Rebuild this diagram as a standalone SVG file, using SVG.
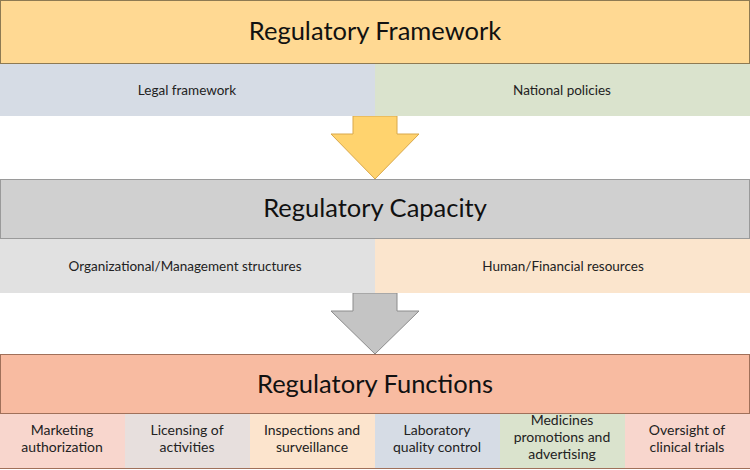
<svg xmlns="http://www.w3.org/2000/svg" width="750" height="470" viewBox="0 0 750 470">
<style>
.title{font-family:Lato,"Open Sans","Liberation Sans",sans-serif;font-size:25.5px;fill:#111;text-anchor:middle}
.sub{font-family:Lato,"Open Sans","Liberation Sans",sans-serif;font-size:13.5px;fill:#222;text-anchor:middle}
.fn{font-family:Lato,"Open Sans","Liberation Sans",sans-serif;font-size:14px;fill:#222;text-anchor:middle}
</style>
<rect width="750" height="470" fill="#ffffff"/>
<g id="connectors">
<polygon points="353,116 397,116 397,134 419,134 375,179 331,134 353,134" fill="#FFD36E" stroke="#D9A84A" stroke-width="1"/>
<polygon points="353,293 397,293 397,311 419,311 375,354 331,311 353,311" fill="#C4C4C4" stroke="#8C8C8C" stroke-width="1"/>
</g>
<g id="regulatory-framework">
<rect x="0.5" y="0.5" width="749" height="63" fill="#FFD993" stroke="#8E7A52" stroke-width="1"/>
<text class="title" x="375" y="40">Regulatory Framework</text>
</g>
<g id="legal-framework">
<rect x="0" y="64" width="375" height="52" fill="#D6DCE5"/>
<text class="sub" x="187" y="95">Legal framework</text>
</g>
<g id="national-policies">
<rect x="375" y="64" width="375" height="52" fill="#DAE3CD"/>
<text class="sub" x="562" y="95">National policies</text>
</g>
<g id="regulatory-capacity">
<rect x="0.5" y="179.5" width="749" height="59" fill="#D0D0D0" stroke="#9A9A9A" stroke-width="1"/>
<text class="title" x="375" y="217">Regulatory Capacity</text>
</g>
<g id="organizational">
<rect x="0" y="239" width="375" height="54" fill="#E1E1E1"/>
<text class="sub" x="185" y="271">Organizational/Management structures</text>
</g>
<g id="human-financial">
<rect x="375" y="239" width="375" height="54" fill="#FBE5CD"/>
<text class="sub" x="563" y="271">Human/Financial resources</text>
</g>
<g id="regulatory-functions">
<rect x="0.5" y="354.5" width="749" height="59" fill="#F8BBA1" stroke="#A0705A" stroke-width="1"/>
<text class="title" x="375" y="393">Regulatory Functions</text>
</g>
<g id="marketing">
<rect x="0" y="414" width="125" height="54" fill="#F8D6CD"/>
<text class="fn" x="62" y="435">Marketing</text>
<text class="fn" x="62" y="452">authorization</text>
</g>
<g id="licensing">
<rect x="125" y="414" width="125" height="54" fill="#E7DFDD"/>
<text class="fn" x="187" y="435">Licensing of</text>
<text class="fn" x="187" y="452">activities</text>
</g>
<g id="inspections">
<rect x="250" y="414" width="125" height="54" fill="#FCE4CD"/>
<text class="fn" x="312" y="435">Inspections and</text>
<text class="fn" x="312" y="452">surveillance</text>
</g>
<g id="laboratory">
<rect x="375" y="414" width="125" height="54" fill="#D6DCE5"/>
<text class="fn" x="437" y="435">Laboratory</text>
<text class="fn" x="437" y="452">quality control</text>
</g>
<g id="medicines">
<rect x="500" y="414" width="125" height="54" fill="#DAE3CD"/>
<text class="fn" x="562" y="425">Medicines</text>
<text class="fn" x="562" y="442">promotions and</text>
<text class="fn" x="562" y="459">advertising</text>
</g>
<g id="oversight">
<rect x="625" y="414" width="125" height="54" fill="#F8D6CD"/>
<text class="fn" x="687" y="435">Oversight of</text>
<text class="fn" x="687" y="452">clinical trials</text>
</g>
<line x1="0" y1="468.5" x2="750" y2="468.5" stroke="#A0705A" stroke-width="1"/>
</svg>
